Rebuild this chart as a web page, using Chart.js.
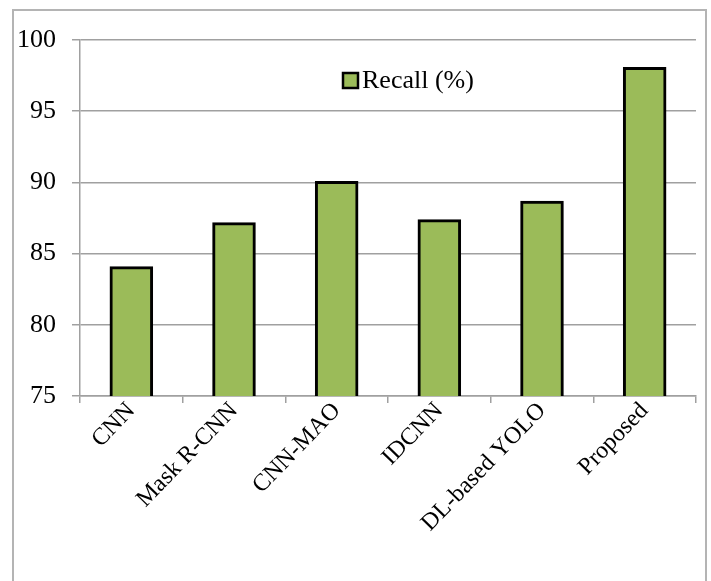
<!DOCTYPE html>
<html>
<head>
<meta charset="utf-8">
<script src="https://cdn.jsdelivr.net/npm/chart.js@4.4.1/dist/chart.umd.min.js"></script>
<style>
  html, body { margin: 0; padding: 0; background: #ffffff; overflow: hidden; }
  #wrap { position: relative; width: 711px; height: 581px; }
  #frame {
    position: absolute; left: 12px; top: 9px; width: 695px; height: 620px;
    border: 2px solid #b4b4b4; box-sizing: border-box;
  }
  canvas { position: absolute; left: 0; top: 0; }
</style>
</head>
<body>
<div id="wrap">
  <div id="frame"></div>
  <canvas id="chart" width="711" height="581"></canvas>
</div>
<script>
// Recall of each detection method, in percent
const methods = ['CNN', 'Mask R-CNN', 'CNN-MAO', 'IDCNN', 'DL-based YOLO', 'Proposed'];
const recallValues = [84.0, 87.1, 90.0, 87.3, 88.6, 98.0];
const seriesName = 'Recall (%)';
const yTicks = [75, 80, 85, 90, 95, 100];

const FONT = '"Liberation Serif", "Times New Roman", serif';
const BAR_FILL = '#9bbb59';

// Legend drawn inside the plot area, near the top
const innerLegend = {
  id: 'innerLegend',
  afterDraw(chart) {
    const ctx = chart.ctx;
    const ds = chart.data.datasets[0];
    const bx = 343, by = 73, size = 15;
    ctx.save();
    ctx.fillStyle = ds.backgroundColor;
    ctx.fillRect(bx, by, size, size);
    ctx.lineWidth = 2.5;
    ctx.strokeStyle = '#000';
    ctx.strokeRect(bx, by, size, size);
    ctx.fillStyle = '#000';
    ctx.font = '26px ' + FONT;
    ctx.textBaseline = 'middle';
    ctx.textAlign = 'left';
    ctx.fillText(ds.label, bx + size + 4, by + size / 2 + 1);
    ctx.restore();
  }
};

new Chart(document.getElementById('chart'), {
  type: 'bar',
  data: {
    labels: methods,
    datasets: [{
      label: seriesName,
      data: recallValues,
      backgroundColor: BAR_FILL,
      borderColor: '#000000',
      borderWidth: 3,
      borderSkipped: 'bottom',
      inflateAmount: 1.5,
      barPercentage: 0.79,
      categoryPercentage: 0.5
    }]
  },
  options: {
    responsive: false,
    animation: false,
    devicePixelRatio: 1,
    layout: { padding: { left: 0, right: 15, top: 40, bottom: 0 } },
    plugins: {
      legend: { display: false },
      tooltip: { enabled: false }
    },
    scales: {
      x: {
        grid: {
          display: true,
          drawOnChartArea: false,
          drawTicks: true,
          tickLength: 7,
          offset: true,
          color: '#a0a0a0',
          lineWidth: 1.5
        },
        border: { display: true, color: '#a0a0a0', width: 1.5 },
        ticks: {
          color: '#000',
          font: { family: FONT, size: 24 },
          minRotation: 46,
          maxRotation: 46,
          padding: -6
        },
        afterFit(scale) { scale.height = 185; }
      },
      y: {
        min: 75,
        max: 100,
        afterBuildTicks(scale) { scale.ticks = yTicks.map(v => ({ value: v })); },
        grid: {
          color: '#a0a0a0',
          lineWidth: 1.5,
          drawTicks: true,
          tickLength: 8
        },
        border: { display: true, color: '#a0a0a0', width: 1.5 },
        ticks: {
          color: '#000',
          font: { family: FONT, size: 26 },
          padding: 16
        },
        afterFit(scale) { scale.width = 80; }
      }
    }
  },
  plugins: [innerLegend]
});
</script>
</body>
</html>
